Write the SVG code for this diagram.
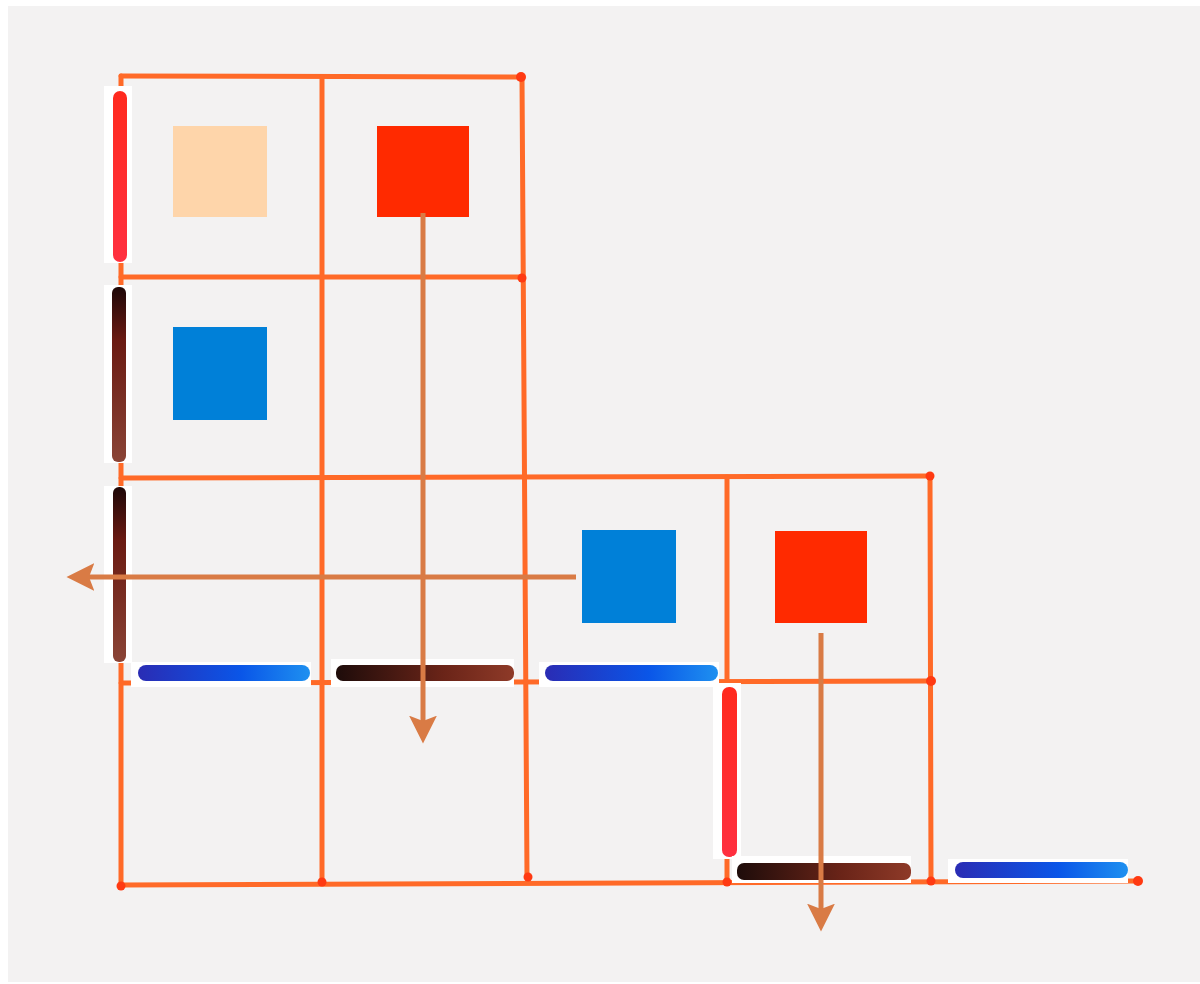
<svg xmlns="http://www.w3.org/2000/svg" width="1200" height="984" viewBox="0 0 1200 984">
<style>
.grid{stroke:#ff6a28;stroke-width:5;stroke-linecap:round;fill:none}
.dot{fill:#ff3a12}
.pad{fill:#ffffff}
.conn{stroke:#d97b45;stroke-width:5;fill:none}
</style>
<defs>
<marker id="ah" markerUnits="userSpaceOnUse" markerWidth="30" markerHeight="30" viewBox="0 -14 28 28" refX="5" refY="0" orient="auto">
<path d="M0,-13 L26,0 L0,13 L5,0 Z" fill="#d97b45"/>
</marker>
<linearGradient id="gBlue" x1="0" y1="0" x2="1" y2="0">
<stop offset="0" stop-color="#2a2cb4"/><stop offset="0.6" stop-color="#0a56e8"/><stop offset="1" stop-color="#1e90f0"/>
</linearGradient>
<linearGradient id="gBrownH" x1="0" y1="0" x2="1" y2="0">
<stop offset="0" stop-color="#1e0c0a"/><stop offset="0.6" stop-color="#6a2418"/><stop offset="1" stop-color="#8e3a28"/>
</linearGradient>
<linearGradient id="gBrownV" x1="0" y1="0" x2="0" y2="1">
<stop offset="0" stop-color="#1e0808"/><stop offset="0.3" stop-color="#6a1a12"/><stop offset="1" stop-color="#8a4436"/>
</linearGradient>
<linearGradient id="gRedV" x1="0" y1="0" x2="0" y2="1">
<stop offset="0" stop-color="#ff2a1e"/><stop offset="1" stop-color="#ff3040"/>
</linearGradient>
</defs>
<rect width="1200" height="984" fill="#ffffff"/>
<rect x="8" y="6" width="1192" height="976" fill="#f3f2f2"/>

<g id="grid">
<line class="grid" x1="121" y1="76" x2="521" y2="77"/>
<line class="grid" x1="121" y1="277" x2="522" y2="277"/>
<line class="grid" x1="121" y1="478" x2="930" y2="476"/>
<line class="grid" x1="121" y1="683" x2="930" y2="681"/>
<line class="grid" x1="121" y1="885" x2="1138" y2="881"/>
<line class="grid" x1="121" y1="76" x2="121" y2="885"/>
<line class="grid" x1="322" y1="77" x2="322" y2="883"/>
<line class="grid" x1="522" y1="77" x2="527" y2="877"/>
<line class="grid" x1="727" y1="477" x2="727" y2="883"/>
<line class="grid" x1="930" y1="476" x2="931" y2="881"/>
<circle class="dot" cx="521" cy="77" r="5"/>
<circle class="dot" cx="522" cy="278" r="4.5"/>
<circle class="dot" cx="930" cy="476" r="4.5"/>
<circle class="dot" cx="931" cy="681" r="5"/>
<circle class="dot" cx="322" cy="882" r="4.5"/>
<circle class="dot" cx="528" cy="877" r="4.5"/>
<circle class="dot" cx="727" cy="882" r="4.5"/>
<circle class="dot" cx="931" cy="881" r="4.5"/>
<circle class="dot" cx="1138" cy="881" r="5"/>
<circle class="dot" cx="121" cy="886" r="4.5"/>
</g>

<g id="bars">
<rect class="pad" x="104" y="86" width="28" height="177"/>
<rect x="113" y="91" width="14" height="171" rx="7" fill="url(#gRedV)"/>
<rect class="pad" x="104" y="285" width="28" height="178"/>
<rect x="112" y="287" width="14" height="175" rx="6" fill="url(#gBrownV)"/>
<rect class="pad" x="104" y="486" width="28" height="177"/>
<rect x="113" y="487" width="13" height="175" rx="6" fill="url(#gBrownV)"/>
<rect class="pad" x="131" y="662" width="180" height="25"/>
<rect x="138" y="665" width="172" height="16" rx="8" fill="url(#gBlue)"/>
<rect class="pad" x="331" y="659" width="183" height="28"/>
<rect x="336" y="665" width="178" height="16" rx="7" fill="url(#gBrownH)"/>
<rect class="pad" x="539" y="662" width="180" height="25"/>
<rect x="545" y="665" width="173" height="16" rx="8" fill="url(#gBlue)"/>
<rect class="pad" x="713" y="683" width="28" height="176"/>
<rect x="722" y="687" width="15" height="170" rx="7" fill="url(#gRedV)"/>
<rect class="pad" x="732" y="856" width="179" height="27"/>
<rect x="737" y="863" width="174" height="17" rx="7" fill="url(#gBrownH)"/>
<rect class="pad" x="948" y="859" width="180" height="24"/>
<rect x="955" y="862" width="173" height="16" rx="8" fill="url(#gBlue)"/>
</g>

<g id="node-peach"><rect x="173" y="126" width="94" height="91" fill="#fed5aa"/></g>
<g id="node-red1"><rect x="377" y="126" width="92" height="91" fill="#ff2a00"/></g>
<g id="node-blue1"><rect x="173" y="327" width="94" height="93" fill="#0080d8"/></g>
<g id="node-blue2"><rect x="582" y="530" width="94" height="93" fill="#0080d8"/></g>
<g id="node-red2"><rect x="775" y="531" width="92" height="92" fill="#ff2a00"/></g>

<g id="connectors">
<line class="conn" x1="423" y1="213" x2="423" y2="721" marker-end="url(#ah)"/>
<line class="conn" x1="576" y1="577" x2="89" y2="577" marker-end="url(#ah)"/>
<line class="conn" x1="821" y1="633" x2="821" y2="909" marker-end="url(#ah)"/>
</g>
</svg>
